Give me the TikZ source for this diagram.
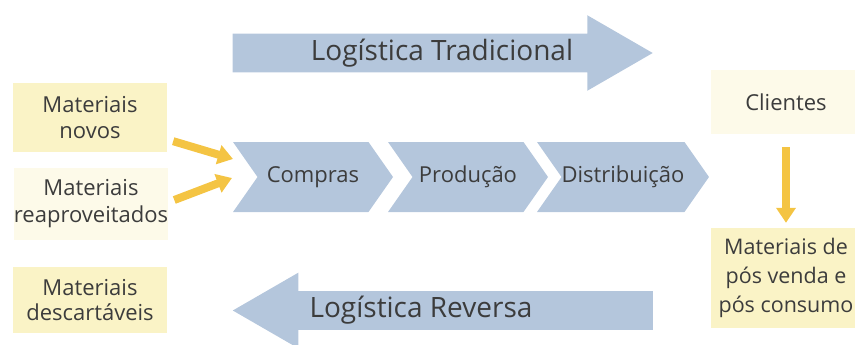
\documentclass[tikz,border=0pt]{standalone}
\usepackage{fontspec}
\setmainfont{Open Sans}
\usepackage{tikz}
\usetikzlibrary{shapes.symbols, shapes.arrows, arrows.meta}
\definecolor{flowblue}{HTML}{B4C6DC}
\definecolor{boxyellow}{HTML}{FAF3C6}
\definecolor{boxpale}{HTML}{FDFAE9}
\definecolor{feedyellow}{HTML}{F4C443}
\definecolor{textgray}{HTML}{3C3C3C}
\tikzset{
    every node/.style={
        text=textgray,
        align=center,
        font=\fontsize{22}{25.5}\selectfont
    },
    box/.style={fill=boxyellow, minimum width=154pt, minimum height=69pt, inner sep=0pt},
    palebox/.style={box, fill=boxpale},
    stage/.style={
        signal, signal from=west, signal to=east,
        signal pointer angle=110,
        fill=flowblue, minimum width=160pt, minimum height=70pt, inner sep=0pt,
        font=\fontsize{22}{25}\selectfont
    },
    flow/.style={
        single arrow, single arrow head extend=18.5pt,
        single arrow tip angle=60,
        fill=flowblue, minimum height=420pt, minimum width=74pt,
        inner xsep=0pt, inner ysep=5pt,
        font=\fontsize{28}{30}\selectfont
    },
    flowtext/.style={font=\fontsize{28}{30}\selectfont},
    feed/.style={
        draw=feedyellow, line width=8pt,
        -{Triangle[length=15pt, width=19pt]}
    }
}

\begin{document}
\begin{tikzpicture}[x=1pt, y=-1pt]
	\useasboundingbox (0,0) rectangle (855,345);
	\node[flow] at (426, 53) (tradicional) {\vphantom{Logística}};
	\node[flowtext] at (442, 53) (tradtext) {Logística Tradicional};
	\node[flow, shape border rotate=180] at (459.5, 310.5) (reversa) {\vphantom{Logística}};
	\node[flowtext] at (421, 310.5) (revtext) {Logística Reversa};
	\node[box] at (90, 117.5) (novos) {Materiais\\novos};
	\node[palebox, minimum height=72pt, font=\fontsize{22}{27}\selectfont] at (91, 204) (reaprov) {Materiais\\reaproveitados};
	\node[box, minimum height=66pt] at (90, 300) (descart) {Materiais\\descartáveis};
	\node[stage] at (313, 177) (compras) {Compras};
	\node[stage] at (468, 177) (producao) {Produção};
	\node[stage] at (623, 177) (distrib) {Distribuição};
	\node[palebox, minimum width=150pt, minimum height=64pt] at (786, 102) (clientes) {Clientes};
	\node[box, minimum width=150pt, minimum height=100pt, font=\fontsize{21.5}{29}\selectfont] at (786, 278) (posvenda) {Materiais de\\pós venda e\\pós consumo};
	\coordinate (in1) at (233, 159);
	\coordinate (in2) at (232, 178);
	\draw[feed] ([shift={(6,-11)}]novos.south east) -- (in1);
	\draw[feed] ([shift={(6,-4)}]reaprov.east) -- (in2);
	\draw[feed, shorten <=13pt, shorten >=5pt] (clientes) -- (posvenda);
\end{tikzpicture}
\end{document}
